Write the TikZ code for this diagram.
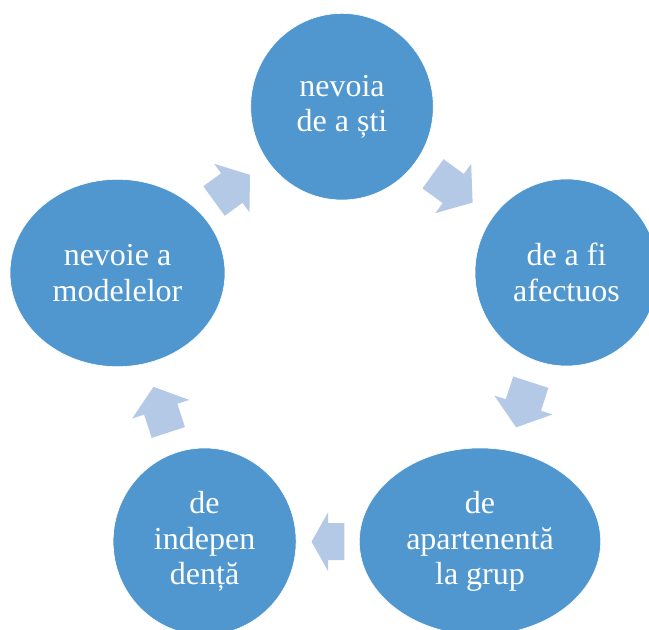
\documentclass[tikz,border=0pt]{standalone}
\usepackage{fontspec}
\setmainfont{Liberation Serif}
\usetikzlibrary{shapes.geometric}
\definecolor{circblue}{RGB}{80,151,207}
\definecolor{arrblue}{RGB}{180,201,229}
\tikzset{
  bubble/.style={ellipse, fill=circblue, draw=white, line width=0.6pt, inner sep=0pt,
    text=white, align=center, font=\fontsize{32}{35.5}\selectfont},
  pics/barrow/.style n args={4}{code={
    \fill[arrblue] (0,-#3/2) -- (#1,-#3/2) -- (#1,-#4/2) -- (#1+#2,0)
      -- (#1,#4/2) -- (#1,#3/2) -- (0,#3/2) -- cycle;}}
}
\begin{document}
\begin{tikzpicture}[x=1pt,y=1pt]
\useasboundingbox (0,0) rectangle (649,630);
\node[bubble, minimum width=182.6pt, minimum height=186.6pt] (top) at (342,523.3) {nevoia\\de a ști};
\node[bubble, minimum width=183pt, minimum height=187pt] (right) at (566.5,357.5) {de a fi\\afectuos};
\node[bubble, minimum width=241.4pt, minimum height=187pt] (bright) at (480,88.5) {de\\apartenentă\\la grup};
\node[bubble, minimum width=183pt, minimum height=187pt] (bleft) at (204.6,88.5) {de\\indepen\\dență};
\node[bubble, minimum width=215pt, minimum height=187.4pt] (left) at (117.5,357) {nevoie a\\modelelor};
\pic[rotate=-36] (arrA) at (433,456.2) {barrow={25}{24}{36}{61}};
\pic[rotate=-108] (arrB) at (530.8,247.8) {barrow={24}{23.5}{37}{61}};
\pic[rotate=180] (arrC) at (344.3,88.3) {barrow={16.3}{16.5}{37}{58.5}};
\pic[rotate=108] (arrD) at (168.3,197.5) {barrow={24.5}{23.5}{35}{60}};
\pic[rotate=36] (arrE) at (214,429) {barrow={22}{22.5}{36.5}{60}};
\end{tikzpicture}
\end{document}
